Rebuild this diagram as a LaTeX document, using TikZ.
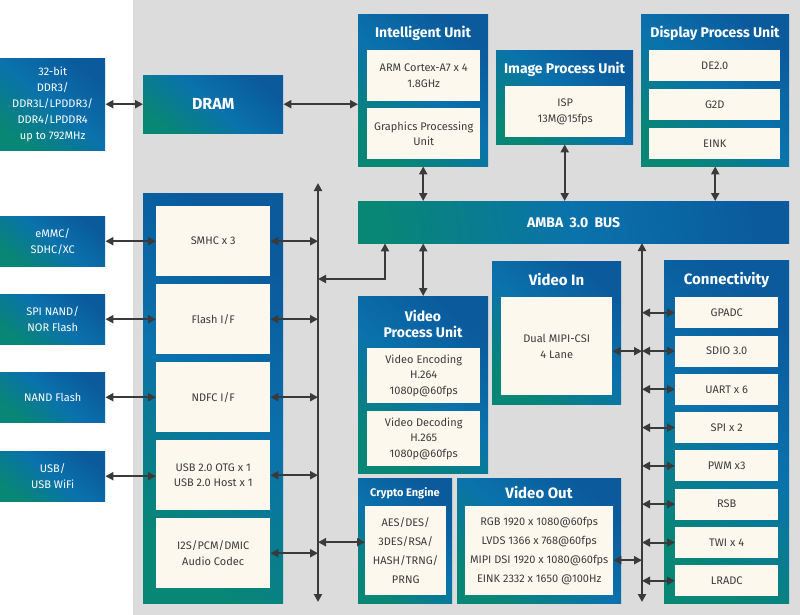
\documentclass[tikz,border=0pt]{standalone}
\usepackage{fontspec}
\setmainfont{Fira Sans}
\usetikzlibrary{arrows.meta, positioning}
\definecolor{socblue}{RGB}{10,90,156}
\definecolor{socmid}{RGB}{10,114,172}
\definecolor{socteal}{RGB}{8,134,118}
\definecolor{soccream}{RGB}{253,248,238}
\definecolor{socgrey}{RGB}{220,220,220}
\definecolor{socink}{RGB}{58,58,58}
\definecolor{soctext}{RGB}{60,60,60}

\begin{document}
\begin{tikzpicture}[
  x=1pt, y=-1pt,
  blk/.style={rectangle, anchor=north west, inner sep=0pt,
              top color=socblue, bottom color=socteal, middle color=socmid,
              shading angle=-40, text=white, align=center,
              font=\fontsize{11}{16}\selectfont},
  cell/.style={rectangle, anchor=north west, inner sep=0pt, fill=soccream,
               text=soctext, align=center, font=\fontsize{11}{15.5}\selectfont},
  ttl/.style={text=white, inner sep=0pt, align=center,
              font=\fontsize{14}{16.5}\selectfont\bfseries},
  link/.style={draw=socink, line width=2pt,
               {Triangle[length=8pt,width=8pt]}-{Triangle[length=8pt,width=8pt]}}
]
\useasboundingbox (0,0) rectangle (800,615);
\fill[socgrey] (133,0) rectangle (800,615);

% external memories and storage
\node[blk, minimum width=105pt, minimum height=92pt] (ddr) at (0,58)
  {32-bit\\DDR3/\\DDR3L/LPDDR3/\\DDR4/LPDDR4\\up to 792MHz};
\node[blk, minimum width=105pt, minimum height=50pt] (emmc) at (0,216) {eMMC/\\SDHC/XC};
\node[blk, minimum width=105pt, minimum height=50pt] (spi) at (0,294) {SPI NAND/\\NOR Flash};
\node[blk, minimum width=105pt, minimum height=50pt] (nand) at (0,372) {NAND Flash};
\node[blk, minimum width=105pt, minimum height=50pt] (usb) at (0,451) {USB/\\USB WiFi};

\node[blk, minimum width=140pt, minimum height=58pt,
      font=\fontsize{16}{18}\selectfont\bfseries] (dram) at (143,75) {DRAM};

% intelligent unit
\node[blk, minimum width=130pt, minimum height=152pt] (iu) at (358,14) {};
\node[ttl] at (423,33) {Intelligent Unit};
\node[cell, minimum width=113pt, minimum height=51pt] (arm) at (367,50) {ARM Cortex-A7 x 4\\1.8GHz};
\node[cell, minimum width=113pt, minimum height=51pt] (gpu) at (367,108) {Graphics Processing\\Unit};

% image process unit
\node[blk, minimum width=137pt, minimum height=94pt] (ipu) at (496,50) {};
\node[ttl] at (564.5,69) {Image Process Unit};
\node[cell, minimum width=120pt, minimum height=51pt] (isp) at (505,86) {ISP\\13M@15fps};

% display process unit
\node[blk, minimum width=148pt, minimum height=152pt] (dpu) at (641,14) {};
\node[ttl] at (715,33) {Display Process Unit};
\node[cell, minimum width=131pt, minimum height=31pt] (de) at (649,50) {DE2.0};
\node[cell, minimum width=131pt, minimum height=31pt] (g2d) at (649,89) {G2D};
\node[cell, minimum width=131pt, minimum height=31pt] (eink) at (649,128) {EINK};

% bus
\node[blk, minimum width=431pt, minimum height=42pt, shading angle=-80,
      font=\fontsize{14}{16}\selectfont\bfseries] (bus) at (358,201)
  {AMBA\hspace{0.45em}3.0\hspace{0.45em}BUS};

% peripheral block
\node[blk, minimum width=140pt, minimum height=410pt] (per) at (143,193) {};
\node[cell, minimum width=114pt, minimum height=70pt] (smhc) at (156,206) {SMHC x 3};
\node[cell, minimum width=114pt, minimum height=70pt] (flash) at (156,284) {Flash I/F};
\node[cell, minimum width=114pt, minimum height=70pt] (ndfc) at (156,362) {NDFC I/F};
\node[cell, minimum width=114pt, minimum height=70pt] (usbc) at (156,440) {USB 2.0 OTG x 1\\USB 2.0 Host x 1};
\node[cell, minimum width=114pt, minimum height=70pt] (i2s) at (156,518) {I2S/PCM/DMIC\\Audio Codec};

% video process unit
\node[blk, minimum width=130pt, minimum height=177pt] (vpu) at (358,296) {};
\node[ttl] at (423,324) {Video\\Process Unit};
\node[cell, minimum width=113pt, minimum height=55pt] (venc) at (367,348) {Video Encoding\\H.264\\1080p@60fps};
\node[cell, minimum width=113pt, minimum height=55pt] (vdec) at (367,411) {Video Decoding\\H.265\\1080p@60fps};

% video in
\node[blk, minimum width=129pt, minimum height=143pt] (vin) at (492,261) {};
\node[ttl, font=\fontsize{15}{17}\selectfont\bfseries] at (556.5,280) {Video In};
\node[cell, minimum width=111pt, minimum height=98pt] (mipi) at (501,297) {Dual MIPI-CSI\\4 Lane};

% connectivity
\node[blk, minimum width=125pt, minimum height=343pt] (con) at (664,260) {};
\node[ttl, font=\fontsize{15}{17}\selectfont\bfseries] at (726.5,280) {Connectivity};
\foreach \nm/\txt [count=\i from 0] in {gpadc/GPADC, sdio/SDIO 3.0, uart/UART x 6, spix/SPI x 2,
                                         pwm/PWM x3, rsb/RSB, twi/TWI x 4, lradc/LRADC}
  \node[cell, minimum width=103pt, minimum height=31pt] (\nm) at (675,297+38.3*\i) {\txt};

% crypto engine and video out
\node[blk, minimum width=94pt, minimum height=125pt] (cry) at (358,478) {};
\node[ttl, font=\fontsize{11}{13}\selectfont\bfseries] at (405,493) {Crypto Engine};
\node[cell, minimum width=81pt, minimum height=89pt, font=\fontsize{11}{19}\selectfont] (aes) at (365,506)
  {AES/DES/\\3DES/RSA/\\HASH/TRNG/\\PRNG};
\node[blk, minimum width=164pt, minimum height=125pt] (vout) at (457,478) {};
\node[ttl, font=\fontsize{15}{17}\selectfont\bfseries] at (539,493) {Video Out};
\node[cell, minimum width=148pt, minimum height=89pt, font=\fontsize{11}{19}\selectfont] (rgb) at (465,506)
  {RGB 1920 x 1080@60fps\\LVDS 1366 x 768@60fps\\MIPI DSI 1920 x 1080@60fps\\EINK 2332 x 1650 @100Hz};

% bus lines
\coordinate (lbtop) at (318,183);
\coordinate (lbbot) at (318,602);
\coordinate (lbjoin) at (318,279);
\coordinate (rbtop) at (642,243);
\coordinate (rbbot) at (642,602);
\draw[link] (lbtop) -- (lbbot);
\draw[link] (rbtop) -- (rbbot);
\draw[link] (lbjoin) -| ([xshift=27pt]bus.south west);

% connectors
\draw[link] (ddr) -- (dram);
\draw[link] (dram.east) -- (dram.east -| iu.west);
\draw[link] (iu.south) -- (iu.south |- bus.north);
\draw[link] (ipu.south) -- (ipu.south |- bus.north);
\draw[link] (dpu.south) -- (dpu.south |- bus.north);
\draw[link] (vpu.north) -- (vpu.north |- bus.south);
\draw[link] (emmc) -- (smhc);
\draw[link] (spi) -- (flash);
\draw[link] (nand) -- (ndfc);
\draw[link] (usb.east) -- (usb.east -| usbc.west);
\foreach \nm in {smhc, flash, ndfc, usbc, i2s}
  \draw[link] (\nm.east) -- (\nm.east -| lbtop);
\draw[link] ([yshift=8.5pt]aes.west -| lbtop) -- ([yshift=8.5pt]aes.west);
\draw[link] ([yshift=-5pt]mipi.east) -- ([yshift=-5pt]mipi.east -| rbtop);
\draw[link] ([yshift=-9.5pt]rgb.east) -- ([yshift=-9.5pt]rgb.east -| rbtop);
\foreach \nm in {gpadc, sdio, uart, spix, pwm, rsb, twi, lradc}
  \draw[link] (\nm.west -| rbtop) -- (\nm.west);
\end{tikzpicture}
\end{document}
